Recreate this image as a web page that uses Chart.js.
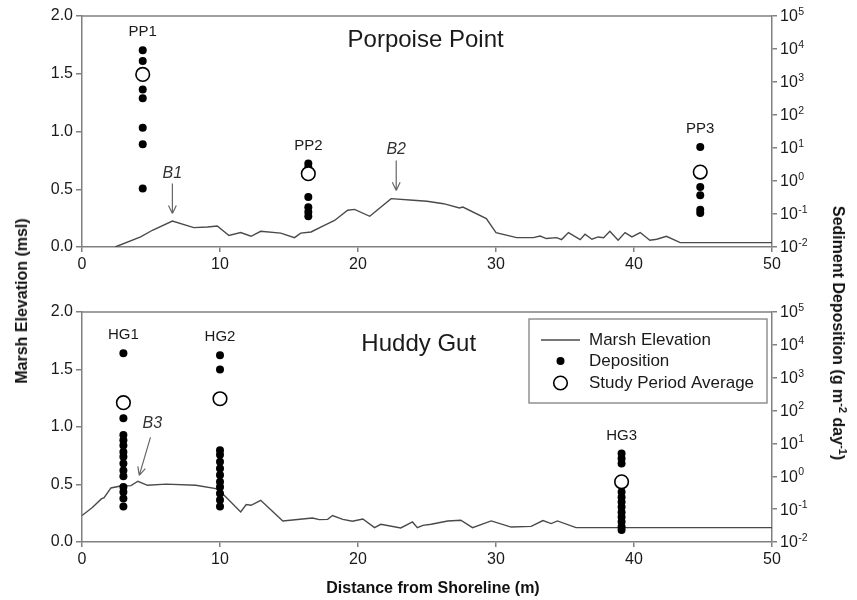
<!DOCTYPE html>
<html lang="en">
<head>
<meta charset="UTF-8">
<title>Marsh Elevation and Sediment Deposition</title>
<script src="https://cdn.jsdelivr.net/npm/chart.js@4.4.1/dist/chart.umd.min.js"></script>
<style>
    body { margin: 0; background: #fff; font-family: "Liberation Sans", Arial, sans-serif; }
    #wrap { position: relative; width: 857px; height: 600px; }
    canvas { position: absolute; left: 0; }
    #top { top: 0; }
    #bottom { top: 290px; }
    .title { position: absolute; font-weight: bold; font-size: 16px; color: #111; white-space: nowrap; }
    #leftTitle { left: 22px; top: 301px; transform: translate(-50%, -50%) rotate(-90deg); }
    #rightTitle { left: 838px; top: 333px; transform: translate(-50%, -50%) rotate(90deg); }
    #xTitle { left: 433px; top: 588px; transform: translate(-50%, -50%); }
    sup { font-size: 11px; line-height: 0; }
</style>
</head>
<body>
<div id="wrap">
    <canvas id="top" width="857" height="290"></canvas>
    <canvas id="bottom" width="857" height="310"></canvas>
    <div class="title" id="leftTitle">Marsh Elevation (msl)</div>
    <div class="title" id="rightTitle">Sediment Deposition (g m<sup>-2</sup> day<sup>-1</sup>)</div>
    <div class="title" id="xTitle">Distance from Shoreline (m)</div>
</div>

<script>
    // ---- data ----
    // x = distance from shoreline (m), elevation in m (msl), deposition in g m-2 day-1
    const distTicks = [0, 10, 20, 30, 40, 50];
    const elevTicks = [0, 0.5, 1.0, 1.5, 2.0];
    const depExponents = [-2, -1, 0, 1, 2, 3, 4, 5];

    // Porpoise Point
    const ppElevDist = [2.4, 4.25, 5.1, 6.55, 8.1, 9.1, 9.8, 10.65, 11.5, 12.25, 12.95, 14.4, 15.4, 15.85, 16.6, 17.3, 18.3, 19.25, 19.75, 20.85, 22.4, 24.0, 25.0, 26.2, 27.35, 27.6, 29.3, 30.0, 31.5, 32.7, 33.2, 33.65, 34.4, 34.75, 35.25, 36.1, 36.45, 36.95, 37.4, 37.8, 38.25, 38.85, 39.35, 39.85, 40.45, 41.15, 41.65, 42.35, 43.35, 50];
    const ppElev = [0, 0.087, 0.145, 0.225, 0.168, 0.173, 0.182, 0.10, 0.125, 0.093, 0.136, 0.12, 0.081, 0.12, 0.13, 0.173, 0.23, 0.318, 0.326, 0.266, 0.419, 0.405, 0.396, 0.375, 0.338, 0.346, 0.246, 0.125, 0.081, 0.081, 0.095, 0.073, 0.081, 0.064, 0.125, 0.064, 0.11, 0.067, 0.087, 0.081, 0.136, 0.058, 0.125, 0.087, 0.125, 0.058, 0.067, 0.093, 0.038, 0.038];
    const ppSites = ['PP1', 'PP2', 'PP3'];
    const ppSiteDist = [4.4, 16.4, 44.8];
    const pp1Dep = [9100, 4300, 590, 320, 41, 13, 0.59];
    const pp2Dep = [3.4, 2.6, 0.33, 0.16, 0.115, 0.085];
    const pp3Dep = [10.7, 0.66, 0.37, 0.135, 0.107];
    const ppAverage = [1700, 1.66, 1.86];

    // Huddy Gut
    const hgElevDist = [0, 0.75, 1.4, 1.6, 2.1, 2.7, 3.55, 4.05, 4.75, 6.1, 8.25, 9.7, 10.3, 11.5, 11.9, 12.25, 12.95, 14.55, 16.7, 17.2, 17.8, 18.15, 18.9, 19.6, 20.35, 21.2, 21.65, 23.1, 23.95, 24.3, 24.7, 25.3, 26.5, 27.45, 28.3, 29.65, 31.1, 32.55, 33.4, 34.0, 34.45, 35.8, 50];
    const hgElev = [0.23, 0.30, 0.375, 0.385, 0.47, 0.485, 0.49, 0.528, 0.493, 0.503, 0.493, 0.464, 0.406, 0.261, 0.325, 0.319, 0.363, 0.183, 0.209, 0.195, 0.197, 0.23, 0.197, 0.18, 0.2, 0.125, 0.154, 0.122, 0.174, 0.125, 0.145, 0.154, 0.183, 0.189, 0.125, 0.183, 0.13, 0.136, 0.186, 0.16, 0.183, 0.125, 0.125];
    const hgSites = ['HG1', 'HG2', 'HG3'];
    const hgSiteDist = [3.0, 10.0, 39.1];
    const hg1Dep = [5600, 58, 18, 12.6, 8.7, 5.5, 3.9, 2.45, 1.5, 1.0, 0.47, 0.33, 0.21, 0.12];
    const hg2Dep = [4800, 1780, 6.2, 4.5, 2.75, 1.74, 1.1, 0.68, 0.47, 0.3, 0.19, 0.12];
    const hg3Dep = [4.9, 3.5, 2.45, 0.33, 0.23, 0.166, 0.117, 0.081, 0.058, 0.041, 0.029, 0.023];
    const hgAverage = [174, 229, 0.68];

    // B1..B3 arrows: text, tip (x, elev), tail (x, elev)
    const ppArrows = [
        { text: 'B1', tip: [6.55, 0.29], tail: [6.55, 0.55] },
        { text: 'B2', tip: [22.77, 0.49], tail: [22.77, 0.75] }
    ];
    const hgArrows = [
        { text: 'B3', tip: [4.15, 0.58], tail: [4.96, 0.91], textAt: [5.1, 1.03] }
    ];

    // ---- styling ----
    const FONT = '"Liberation Sans", Arial, sans-serif';
    const AXIS = '#808080';
    const INK = '#1a1a1a';
    Chart.defaults.font.family = FONT;
    Chart.defaults.color = INK;

    const PLOT_LEFT = 82, PLOT_RIGHT = 772;
    const DOT_R = 4, RING_R = 6.8;

    function points(dist, values) {
        return values.map(v => ({ x: dist, y: v }));
    }

    function line(xs, ys) {
        return xs.map((x, i) => ({ x: x, y: ys[i] }));
    }

    const annot = {
        id: 'annot',
        afterDatasetsDraw(chart, args, o) {
            const ctx = chart.ctx, a = chart.chartArea;
            const xs = chart.scales.x, yL = chart.scales.yL, yR = chart.scales.yR;
            ctx.save();

            // frame top
            ctx.strokeStyle = AXIS;
            ctx.lineWidth = 1.5;
            ctx.beginPath();
            ctx.moveTo(a.left, a.top);
            ctx.lineTo(a.right, a.top);
            ctx.stroke();

            // right axis labels 10^n
            ctx.fillStyle = INK;
            ctx.textAlign = 'left';
            ctx.textBaseline = 'middle';
            depExponents.forEach(e => {
                const py = yR.getPixelForValue(Math.pow(10, e));
                ctx.font = '16px ' + FONT;
                ctx.fillText('10', a.right + 8, py + 1);
                const w = ctx.measureText('10').width;
                ctx.font = '10.5px ' + FONT;
                ctx.fillText(String(e), a.right + 8 + w + 0.5, py - 4);
            });

            // panel title
            ctx.textAlign = 'center';
            ctx.font = '24px ' + FONT;
            ctx.fillText(o.title, xs.getPixelForValue(o.titleAt[0]), yL.getPixelForValue(o.titleAt[1]));

            // site labels above highest deposition
            ctx.font = '15px ' + FONT;
            o.sites.forEach((name, i) => {
                const top = Math.max(...o.deps[i], o.avg[i]);
                ctx.fillText(name, xs.getPixelForValue(o.siteDist[i]), yR.getPixelForValue(top) - 18);
            });

            // arrows
            o.arrows.forEach(ar => {
                const tx = xs.getPixelForValue(ar.tip[0]), ty = yL.getPixelForValue(ar.tip[1]);
                const sx = xs.getPixelForValue(ar.tail[0]), sy = yL.getPixelForValue(ar.tail[1]);
                ctx.strokeStyle = '#666';
                ctx.lineWidth = 1.2;
                ctx.beginPath();
                ctx.moveTo(sx, sy);
                ctx.lineTo(tx, ty);
                const ang = Math.atan2(ty - sy, tx - sx);
                for (const d of [-0.45, 0.45]) {
                    ctx.moveTo(tx, ty);
                    ctx.lineTo(tx - 9 * Math.cos(ang + d), ty - 9 * Math.sin(ang + d));
                }
                ctx.stroke();
                const at = ar.textAt || [ar.tail[0], ar.tail[1] + 0.09];
                ctx.font = 'italic 16px ' + FONT;
                ctx.fillStyle = '#333';
                ctx.fillText(ar.text, xs.getPixelForValue(at[0]), yL.getPixelForValue(at[1]));
            });

            // legend box
            if (o.legend) {
                const L = a.right - 243, T = a.top + 7;
                ctx.strokeStyle = AXIS;
                ctx.lineWidth = 1.3;
                ctx.strokeRect(L, T, 238, 84);
                ctx.strokeStyle = '#4a4a4a';
                ctx.lineWidth = 1.4;
                ctx.beginPath();
                ctx.moveTo(L + 12, T + 21);
                ctx.lineTo(L + 51, T + 21);
                ctx.stroke();
                ctx.fillStyle = '#000';
                ctx.beginPath();
                ctx.arc(L + 31.5, T + 42, DOT_R, 0, Math.PI * 2);
                ctx.fill();
                ctx.fillStyle = '#fff';
                ctx.strokeStyle = '#000';
                ctx.lineWidth = 1.6;
                ctx.beginPath();
                ctx.arc(L + 31.5, T + 64, RING_R, 0, Math.PI * 2);
                ctx.fill();
                ctx.stroke();
                ctx.fillStyle = INK;
                ctx.textAlign = 'left';
                ctx.font = '17px ' + FONT;
                ctx.fillText('Marsh Elevation', L + 60, T + 21);
                ctx.fillText('Deposition', L + 60, T + 42);
                ctx.fillText('Study Period Average', L + 60, T + 64);
            }
            ctx.restore();
        }
    };

    function makeChart(id, cfg) {
        const canvas = document.getElementById(id);
        const H = canvas.height;
        const datasets = [
            {
                label: 'Study Period Average',
                data: cfg.siteDist.map((d, i) => ({ x: d, y: cfg.avg[i] })),
                yAxisID: 'yR',
                pointRadius: RING_R,
                pointBackgroundColor: '#fff',
                pointBorderColor: '#000',
                pointBorderWidth: 1.6,
                showLine: false
            },
            {
                label: 'Deposition',
                data: cfg.deps.flatMap((arr, i) => points(cfg.siteDist[i], arr)),
                yAxisID: 'yR',
                pointRadius: DOT_R,
                pointBackgroundColor: '#000',
                pointBorderColor: '#000',
                pointBorderWidth: 0,
                showLine: false
            },
            {
                label: 'Marsh Elevation',
                data: line(cfg.elevDist, cfg.elev),
                yAxisID: 'yL',
                showLine: true,
                borderColor: '#4a4a4a',
                borderWidth: 1.4,
                pointRadius: 0,
                tension: 0
            }
        ];
        return new Chart(canvas, {
            type: 'scatter',
            data: { datasets: datasets },
            plugins: [annot],
            options: {
                responsive: false,
                animation: false,
                layout: { padding: { top: cfg.top, left: 0, right: 0, bottom: 0 } },
                plugins: {
                    legend: { display: false },
                    tooltip: { enabled: false },
                    annot: {
                        title: cfg.title, titleAt: cfg.titleAt, sites: cfg.sites,
                        siteDist: cfg.siteDist, deps: cfg.deps, avg: cfg.avg,
                        arrows: cfg.arrows, legend: cfg.legend
                    }
                },
                scales: {
                    x: {
                        type: 'linear', min: 0, max: 50,
                        afterBuildTicks: s => { s.ticks = distTicks.map(v => ({ value: v })); },
                        afterFit: s => { s.height = H - cfg.bottom; },
                        grid: { drawOnChartArea: false, drawTicks: true, tickLength: 5, color: AXIS, lineWidth: 1.5 },
                        border: { display: true, color: AXIS, width: 1.5 },
                        ticks: { font: { size: 16 }, color: INK, padding: 3, maxRotation: 0 }
                    },
                    yL: {
                        type: 'linear', position: 'left', min: 0, max: 2,
                        afterBuildTicks: s => { s.ticks = elevTicks.map(v => ({ value: v })); },
                        afterFit: s => { s.width = PLOT_LEFT; },
                        grid: { drawOnChartArea: false, drawTicks: true, tickLength: 6, color: AXIS, lineWidth: 1.5 },
                        border: { display: true, color: AXIS, width: 1.5 },
                        ticks: { font: { size: 16 }, color: INK, padding: 3, callback: v => v.toFixed(1) }
                    },
                    yR: {
                        type: 'logarithmic', position: 'right', min: 0.01, max: 100000,
                        afterBuildTicks: s => { s.ticks = depExponents.map(e => ({ value: Math.pow(10, e) })); },
                        afterFit: s => { s.width = 857 - PLOT_RIGHT; },
                        grid: { drawOnChartArea: false, drawTicks: true, tickLength: 5, color: AXIS, lineWidth: 1.5 },
                        border: { display: true, color: AXIS, width: 1.5 },
                        ticks: { display: false }
                    }
                }
            }
        });
    }

    makeChart('top', {
        top: 16, bottom: 247,
        title: 'Porpoise Point', titleAt: [24.9, 1.79],
        sites: ppSites, siteDist: ppSiteDist,
        deps: [pp1Dep, pp2Dep, pp3Dep], avg: ppAverage,
        elevDist: ppElevDist, elev: ppElev,
        arrows: ppArrows, legend: false
    });

    makeChart('bottom', {
        top: 22, bottom: 252,
        title: 'Huddy Gut', titleAt: [24.4, 1.72],
        sites: hgSites, siteDist: hgSiteDist,
        deps: [hg1Dep, hg2Dep, hg3Dep], avg: hgAverage,
        elevDist: hgElevDist, elev: hgElev,
        arrows: hgArrows, legend: true
    });
</script>
</body>
</html>
